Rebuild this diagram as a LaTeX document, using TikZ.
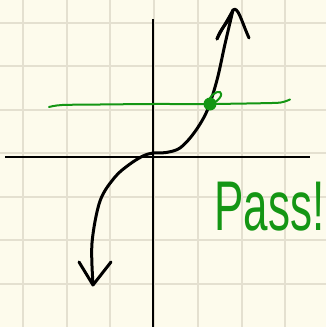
\documentclass[tikz,border=0pt]{standalone}
\usepackage{fontspec}
\usepackage{graphicx}
\setmainfont{Liberation Sans}
\definecolor{paper}{RGB}{253,251,236}
\definecolor{gridc}{RGB}{228,224,208}
\definecolor{pen}{RGB}{20,150,20}
\tikzset{
  gridline/.style={draw=gridc, line width=1.4pt},
  axis/.style={draw=black, line width=2.6pt},
  ink/.style={draw=black, line width=3pt, line cap=round, line join=round},
  greenink/.style={draw=pen, line width=2pt, line cap=round, line join=round},
}
\begin{document}
\begin{tikzpicture}[x=1pt,y=-1pt]
\useasboundingbox (0,0) rectangle (326,327);
\clip (0,0) rectangle (326,327);
\fill[paper] (0,0) rectangle (326,327);
% grid
\foreach \g in {23,67,110,154,198,242,285} \draw[gridline] (\g,0) -- (\g,327);
\foreach \g in {23,66,110,153,197,240,284} \draw[gridline] (0,\g) -- (326,\g);
% axes
\coordinate (ytop) at (153,19);
\coordinate (ybot) at (153,327);
\coordinate (xl) at (5,157);
\coordinate (xr) at (310,157);
\draw[axis] (ytop) -- (ybot);
\draw[axis] (xl) -- (xr);
% green horizontal line
\draw[greenink] plot[smooth, tension=0.5] coordinates {(49,107) (62,105) (100,104.5) (153,104) (210,104) (272,103) (283,102) (290,99.5)};
% curve
\draw[ink] plot[smooth, tension=0.55] coordinates {(93,284) (92,243) (100,201) (115,177) (130,164) (143,156) (153,153) (166,152.5) (180,148) (194,133) (207,111) (217,80) (225,44) (233,10)};
% top arrowhead
\draw[ink] (217,39) .. controls (221,30) and (228,20) .. (233,10);
\draw[ink] (217,39) .. controls (220,30) and (226,24) .. (230,18);
\draw[ink] (233,10) .. controls (238,6) and (241,20) .. (249,38);
% bottom arrowhead
\draw[ink] (79,262) -- (93,285) -- (111,262);
% green dot
\fill[pen] (210,104) circle (6.5);
\draw[greenink] (206,106) .. controls (210,95) and (216,91) .. (220,92) .. controls (224,94) and (218,102) .. (211,104);
% text
\node[text=pen, anchor=base west, inner sep=0pt, font=\fontsize{44}{44}\selectfont] (pass) at (214,230) {\scalebox{1}[1.6]{Pass!}};
\end{tikzpicture}
\end{document}
